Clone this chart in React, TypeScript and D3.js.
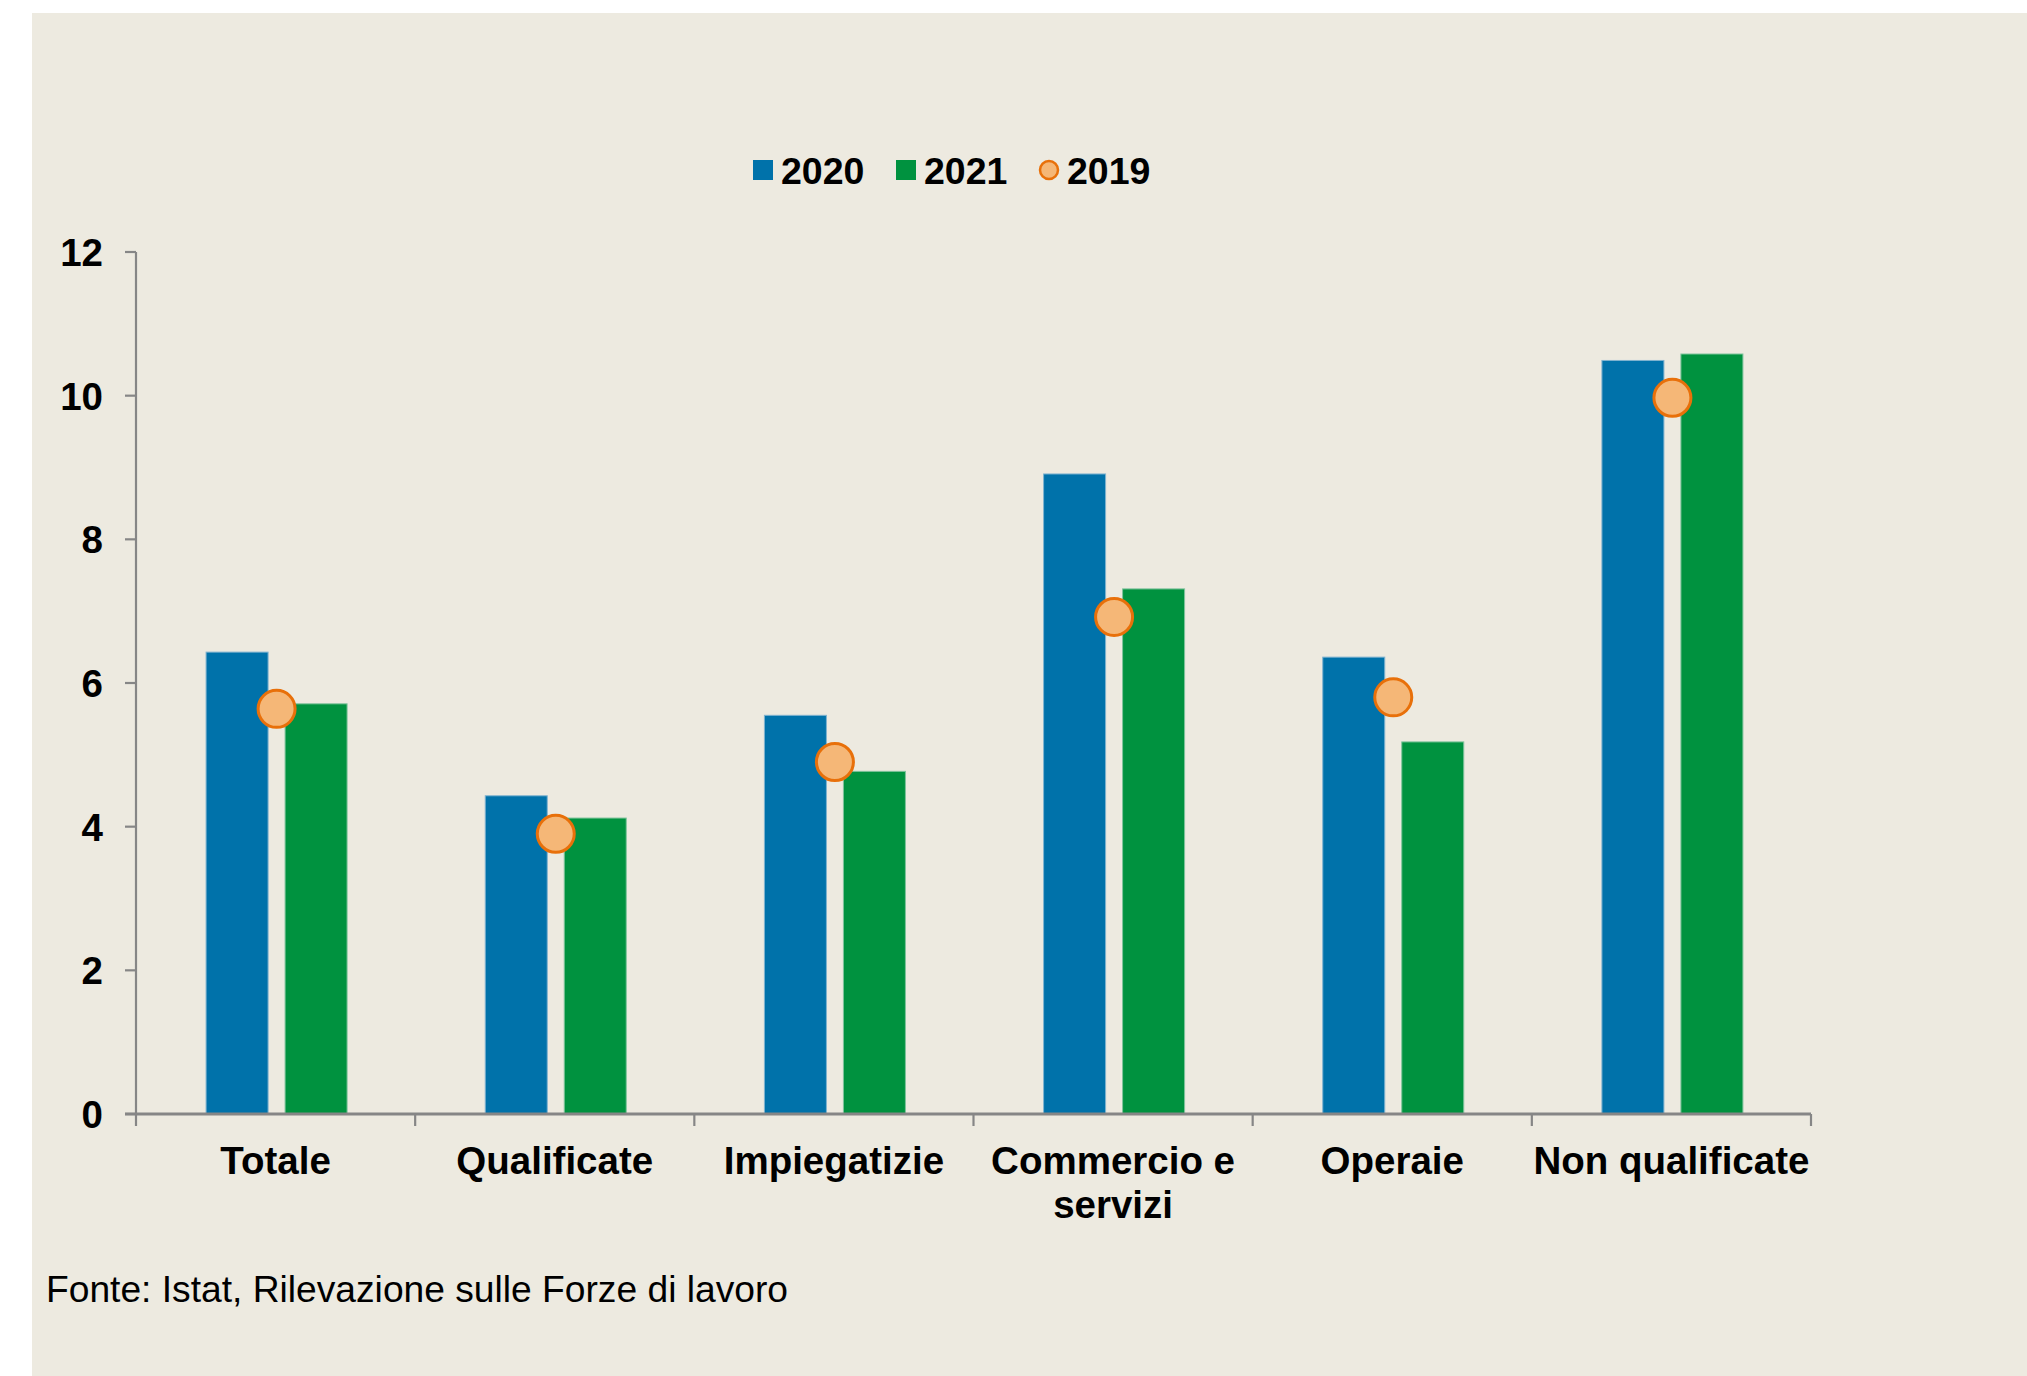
import React from "react";
import * as d3 from "d3";

const categories: string[][] = [
  ["Totale"],
  ["Qualificate"],
  ["Impiegatizie"],
  ["Commercio e", "servizi"],
  ["Operaie"],
  ["Non qualificate"],
];
const values2020 = [6.43, 4.43, 5.55, 8.91, 6.36, 10.49];
const values2021 = [5.71, 4.12, 4.77, 7.31, 5.18, 10.58];
const values2019 = [5.64, 3.9, 4.9, 6.92, 5.8, 9.97];
const yTicks = [0, 2, 4, 6, 8, 10, 12];
const legendItems = [
  { label: "2020", kind: "rect", color: "#0072AA" },
  { label: "2021", kind: "rect", color: "#00923F" },
  { label: "2019", kind: "circle", color: "#F5B777" },
];
const source = "Fonte: Istat, Rilevazione sulle Forze di lavoro";

const W = 2027;
const H = 1376;
const FONT = "'Liberation Sans', Arial, sans-serif";
const AXIS = "#868686";

export default function App() {
  const x0 = 136;
  const x1 = 1811;
  const yTop = 252;
  const yBot = 1114;

  const x = d3
    .scaleBand<number>()
    .domain(categories.map((_, i) => i))
    .range([x0, x1])
    .paddingInner(0)
    .paddingOuter(0);
  const y = d3.scaleLinear().domain([0, 12]).range([yBot, yTop]);

  const bw = x.bandwidth();
  const barW = 62;
  const gap = 17;
  const groupW = barW * 2 + gap;

  const legendX = [753, 896, 1039];
  const legendY = 170;

  return (
    <svg
      width={W}
      height={H}
      style={{ position: "absolute", left: 0, top: 0, display: "block" }}
    >
      <rect x={0} y={0} width={W} height={H} fill="#ffffff" />
      <rect x={32} y={13} width={W - 32} height={H - 13} fill="#EDEAE0" />

      {/* legend */}
      {legendItems.map((it, i) => (
        <g key={it.label}>
          {it.kind === "rect" ? (
            <rect x={legendX[i]} y={legendY - 10} width={20} height={20} fill={it.color} />
          ) : (
            <circle
              cx={legendX[i] + 10}
              cy={legendY}
              r={9}
              fill={it.color}
              stroke="#E8700A"
              strokeWidth={2.5}
            />
          )}
          <text
            x={legendX[i] + 28}
            y={legendY}
            dy="0.36em"
            fontFamily={FONT}
            fontWeight="bold"
            fontSize={37.5}
            fill="#000"
          >
            {it.label}
          </text>
        </g>
      ))}

      {/* y axis */}
      <line x1={x0} x2={x0} y1={yTop} y2={yBot} stroke={AXIS} strokeWidth={2.2} />
      {yTicks.map((t) => (
        <g key={t}>
          <line x1={x0 - 11} x2={x0} y1={y(t)} y2={y(t)} stroke={AXIS} strokeWidth={2.2} />
          <text
            x={103}
            y={y(t)}
            dy="0.36em"
            textAnchor="end"
            fontFamily={FONT}
            fontWeight="bold"
            fontSize={38.5}
            fill="#000"
          >
            {t}
          </text>
        </g>
      ))}

      {/* bars */}
      {categories.map((_, i) => {
        const start = (x(i) as number) + (bw - groupW) / 2 + 1;
        return (
          <g key={"b" + i}>
            <rect
              x={start}
              y={y(values2020[i])}
              width={barW}
              height={yBot - y(values2020[i])}
              fill="#0072AA"
              stroke="#7fb3d0"
              strokeWidth={1}
            />
            <rect
              x={start + barW + gap}
              y={y(values2021[i])}
              width={barW}
              height={yBot - y(values2021[i])}
              fill="#00923F"
              stroke="#7fc39c"
              strokeWidth={1}
            />
          </g>
        );
      })}

      {/* x axis */}
      <line x1={x0 - 11} x2={x1} y1={yBot} y2={yBot} stroke={AXIS} strokeWidth={3} />
      {[...categories.map((_, i) => x(i) as number), x1].map((xx, i) => (
        <line key={"t" + i} x1={xx} x2={xx} y1={yBot} y2={yBot + 12} stroke={AXIS} strokeWidth={2.2} />
      ))}

      {/* circles 2019 */}
      {categories.map((_, i) => (
        <circle
          key={"c" + i}
          cx={(x(i) as number) + bw / 2 + 1}
          cy={y(values2019[i])}
          r={18.5}
          fill="#F5B777"
          stroke="#E8700A"
          strokeWidth={3}
        />
      ))}

      {/* category labels */}
      {categories.map((lines, i) => (
        <text
          key={"l" + i}
          x={(x(i) as number) + bw / 2}
          y={1174}
          textAnchor="middle"
          fontFamily={FONT}
          fontWeight="bold"
          fontSize={38.5}
          fill="#000"
        >
          {lines.map((ln, j) => (
            <tspan key={j} x={(x(i) as number) + bw / 2} dy={j === 0 ? 0 : 44}>
              {ln}
            </tspan>
          ))}
        </text>
      ))}

      <text x={46} y={1302} fontFamily={FONT} fontSize={37.2} fill="#000">
        {source}
      </text>
    </svg>
  );
}
